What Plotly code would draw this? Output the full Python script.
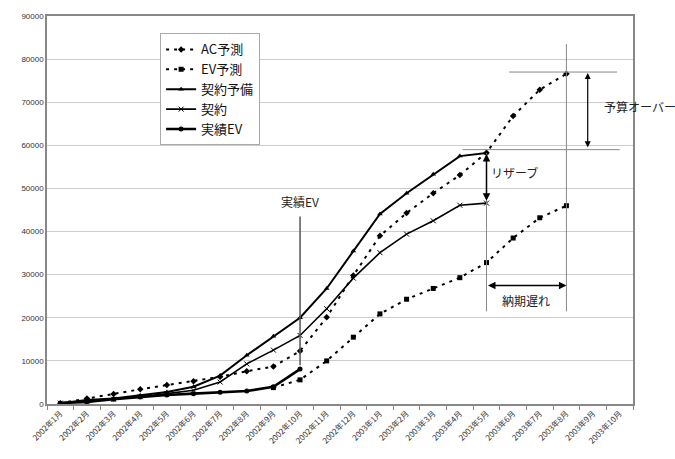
import plotly.graph_objects as go

# Months on the category axis
months = [f"2002年{m}月" for m in range(1, 13)] + [f"2003年{m}月" for m in range(1, 11)]

# Series values (None where a series has no point)
ac_forecast = [200, 1300, 2300, 3400, 4400, 5300, 6300, 7600, 8700, 12300, 20100, 29800,
               39000, 44300, 48900, 53100, 58300, 66800, 72900, 76600, None, None]
ev_forecast = [None, None, None, None, None, None, None, None, 3800, 5600, 10000, 15500,
               20900, 24300, 26800, 29300, 32800, 38500, 43200, 46000, None, None]
contract_reserve = [200, 900, 1300, 2000, 2800, 4000, 6600, 11300, 15700, 20000, 26800, 35500,
                    44100, 48900, 53300, 57500, 58200, None, None, None, None, None]
contract = [200, 700, 1100, 1700, 2400, 3200, 5100, 9300, 12500, 15900, 22100, 29200,
            35100, 39400, 42500, 46100, 46600, None, None, None, None, None]
actual_ev = [200, 500, 1100, 1600, 2100, 2400, 2700, 3000, 4000, 8100, None, None,
             None, None, None, None, None, None, None, None, None, None]

y_ticks = list(range(0, 90001, 10000))

JP = "Noto Sans CJK JP, Noto Sans, sans-serif"

fig = go.Figure()
fig.add_trace(go.Scatter(x=months, y=ac_forecast, name="AC予測", mode="lines+markers",
                         line=dict(color="black", width=2, dash="3px,5px"),
                         marker=dict(symbol="diamond", size=5, color="black")))
fig.add_trace(go.Scatter(x=months, y=ev_forecast, name="EV予測", mode="lines+markers",
                         line=dict(color="black", width=2, dash="3px,5px"),
                         marker=dict(symbol="square", size=5, color="black")))
fig.add_trace(go.Scatter(x=months, y=contract_reserve, name="契約予備", mode="lines+markers",
                         line=dict(color="black", width=2),
                         marker=dict(symbol="triangle-up", size=5, color="black")))
fig.add_trace(go.Scatter(x=months, y=contract, name="契約", mode="lines+markers",
                         line=dict(color="black", width=1.6),
                         marker=dict(symbol="x-thin", size=5, color="black",
                                     line=dict(color="black", width=1))))
fig.add_trace(go.Scatter(x=months, y=actual_ev, name="実績EV", mode="lines+markers",
                         line=dict(color="black", width=2.6),
                         marker=dict(symbol="circle", size=5, color="black")))

# Index helpers for guide lines
i_ev_end = 9        # 2002年10月
i_reserve = 16      # 2003年5月
i_end = 19          # 2003年8月

shapes = []
gray = "#888888"
# pointer to the last actual EV point
shapes.append(dict(type="line", xref="x", yref="y", x0=i_ev_end, x1=i_ev_end,
                   y0=9000, y1=43500, line=dict(color="#555555", width=1.5)))
# reserve / delay vertical guides
shapes.append(dict(type="line", xref="x", yref="y", x0=i_reserve, x1=i_reserve,
                   y0=21500, y1=58200, line=dict(color=gray, width=1)))
shapes.append(dict(type="line", xref="x", yref="y", x0=i_end, x1=i_end,
                   y0=21500, y1=83500, line=dict(color=gray, width=1)))
# budget guides
shapes.append(dict(type="line", xref="x", yref="y", x0=15.1, x1=21.0,
                   y0=59000, y1=59000, line=dict(color=gray, width=1)))
shapes.append(dict(type="line", xref="x", yref="y", x0=16.85, x1=20.9,
                   y0=77000, y1=77000, line=dict(color=gray, width=1)))

annotations = [
    dict(x=i_ev_end, y=47000, xref="x", yref="y", text="実績EV", showarrow=False,
         font=dict(family=JP, size=12, color="#222222")),
    # reserve arrow
    dict(x=i_reserve, y=58000, ax=i_reserve, ay=46800, xref="x", yref="y", axref="x", ayref="y",
         text="", showarrow=True, arrowhead=2, arrowside="end+start", arrowsize=1,
         arrowwidth=1.5, arrowcolor="black"),
    dict(x=i_reserve + 0.1, y=53800, xref="x", yref="y", text="リザーブ", showarrow=False,
         xanchor="left", font=dict(family=JP, size=12, color="#222222")),
    # budget overrun arrow
    dict(x=19.8, y=76800, ax=19.8, ay=59200, xref="x", yref="y", axref="x", ayref="y",
         text="", showarrow=True, arrowhead=2, arrowside="end+start", arrowsize=1,
         arrowwidth=1.2, arrowcolor="black"),
    dict(x=20.35, y=69000, xref="x", yref="y", text="予算オーバー", showarrow=False,
         xanchor="left", font=dict(family=JP, size=12, color="#222222")),
    # delivery delay arrow
    dict(x=i_end, y=27500, ax=i_reserve, ay=27500, xref="x", yref="y", axref="x", ayref="y",
         text="", showarrow=True, arrowhead=2, arrowside="end+start", arrowsize=1,
         arrowwidth=1.5, arrowcolor="black"),
    dict(x=(i_reserve + i_end) / 2, y=24000, xref="x", yref="y", text="納期遅れ", showarrow=False,
         font=dict(family=JP, size=12, color="#222222")),
]

fig.update_layout(
    width=675, height=459,
    margin=dict(l=47, r=42, t=14, b=55),
    paper_bgcolor="white", plot_bgcolor="white",
    font=dict(family=JP, color="#333333"),
    showlegend=True,
    legend=dict(x=0.193, y=0.955, xanchor="left", yanchor="top",
                bgcolor="white", bordercolor="#aaaaaa", borderwidth=1,
                font=dict(family=JP, size=13, color="#111111"),
                tracegroupgap=0),
    shapes=shapes,
    annotations=annotations,
)
fig.update_xaxes(type="category", categoryorder="array", categoryarray=months,
                 range=[-0.5, len(months) - 0.5], tickangle=-45, tickson="boundaries",
                 ticks="outside", ticklen=4, tickcolor="#888888",
                 tickfont=dict(family=JP, size=8, color="#333333"),
                 showline=True, linecolor="#888888", linewidth=1.5, mirror=True,
                 showgrid=False)
fig.update_yaxes(range=[0, 90000], tickvals=y_ticks, tickformat="d",
                 tickfont=dict(family="Liberation Sans, Arial", size=8, color="#333333"),
                 showline=True, linecolor="#888888", linewidth=1.5, mirror=True,
                 gridcolor="#cccccc", gridwidth=1.2, zeroline=False, ticks="")

fig.write_html("out.html")
